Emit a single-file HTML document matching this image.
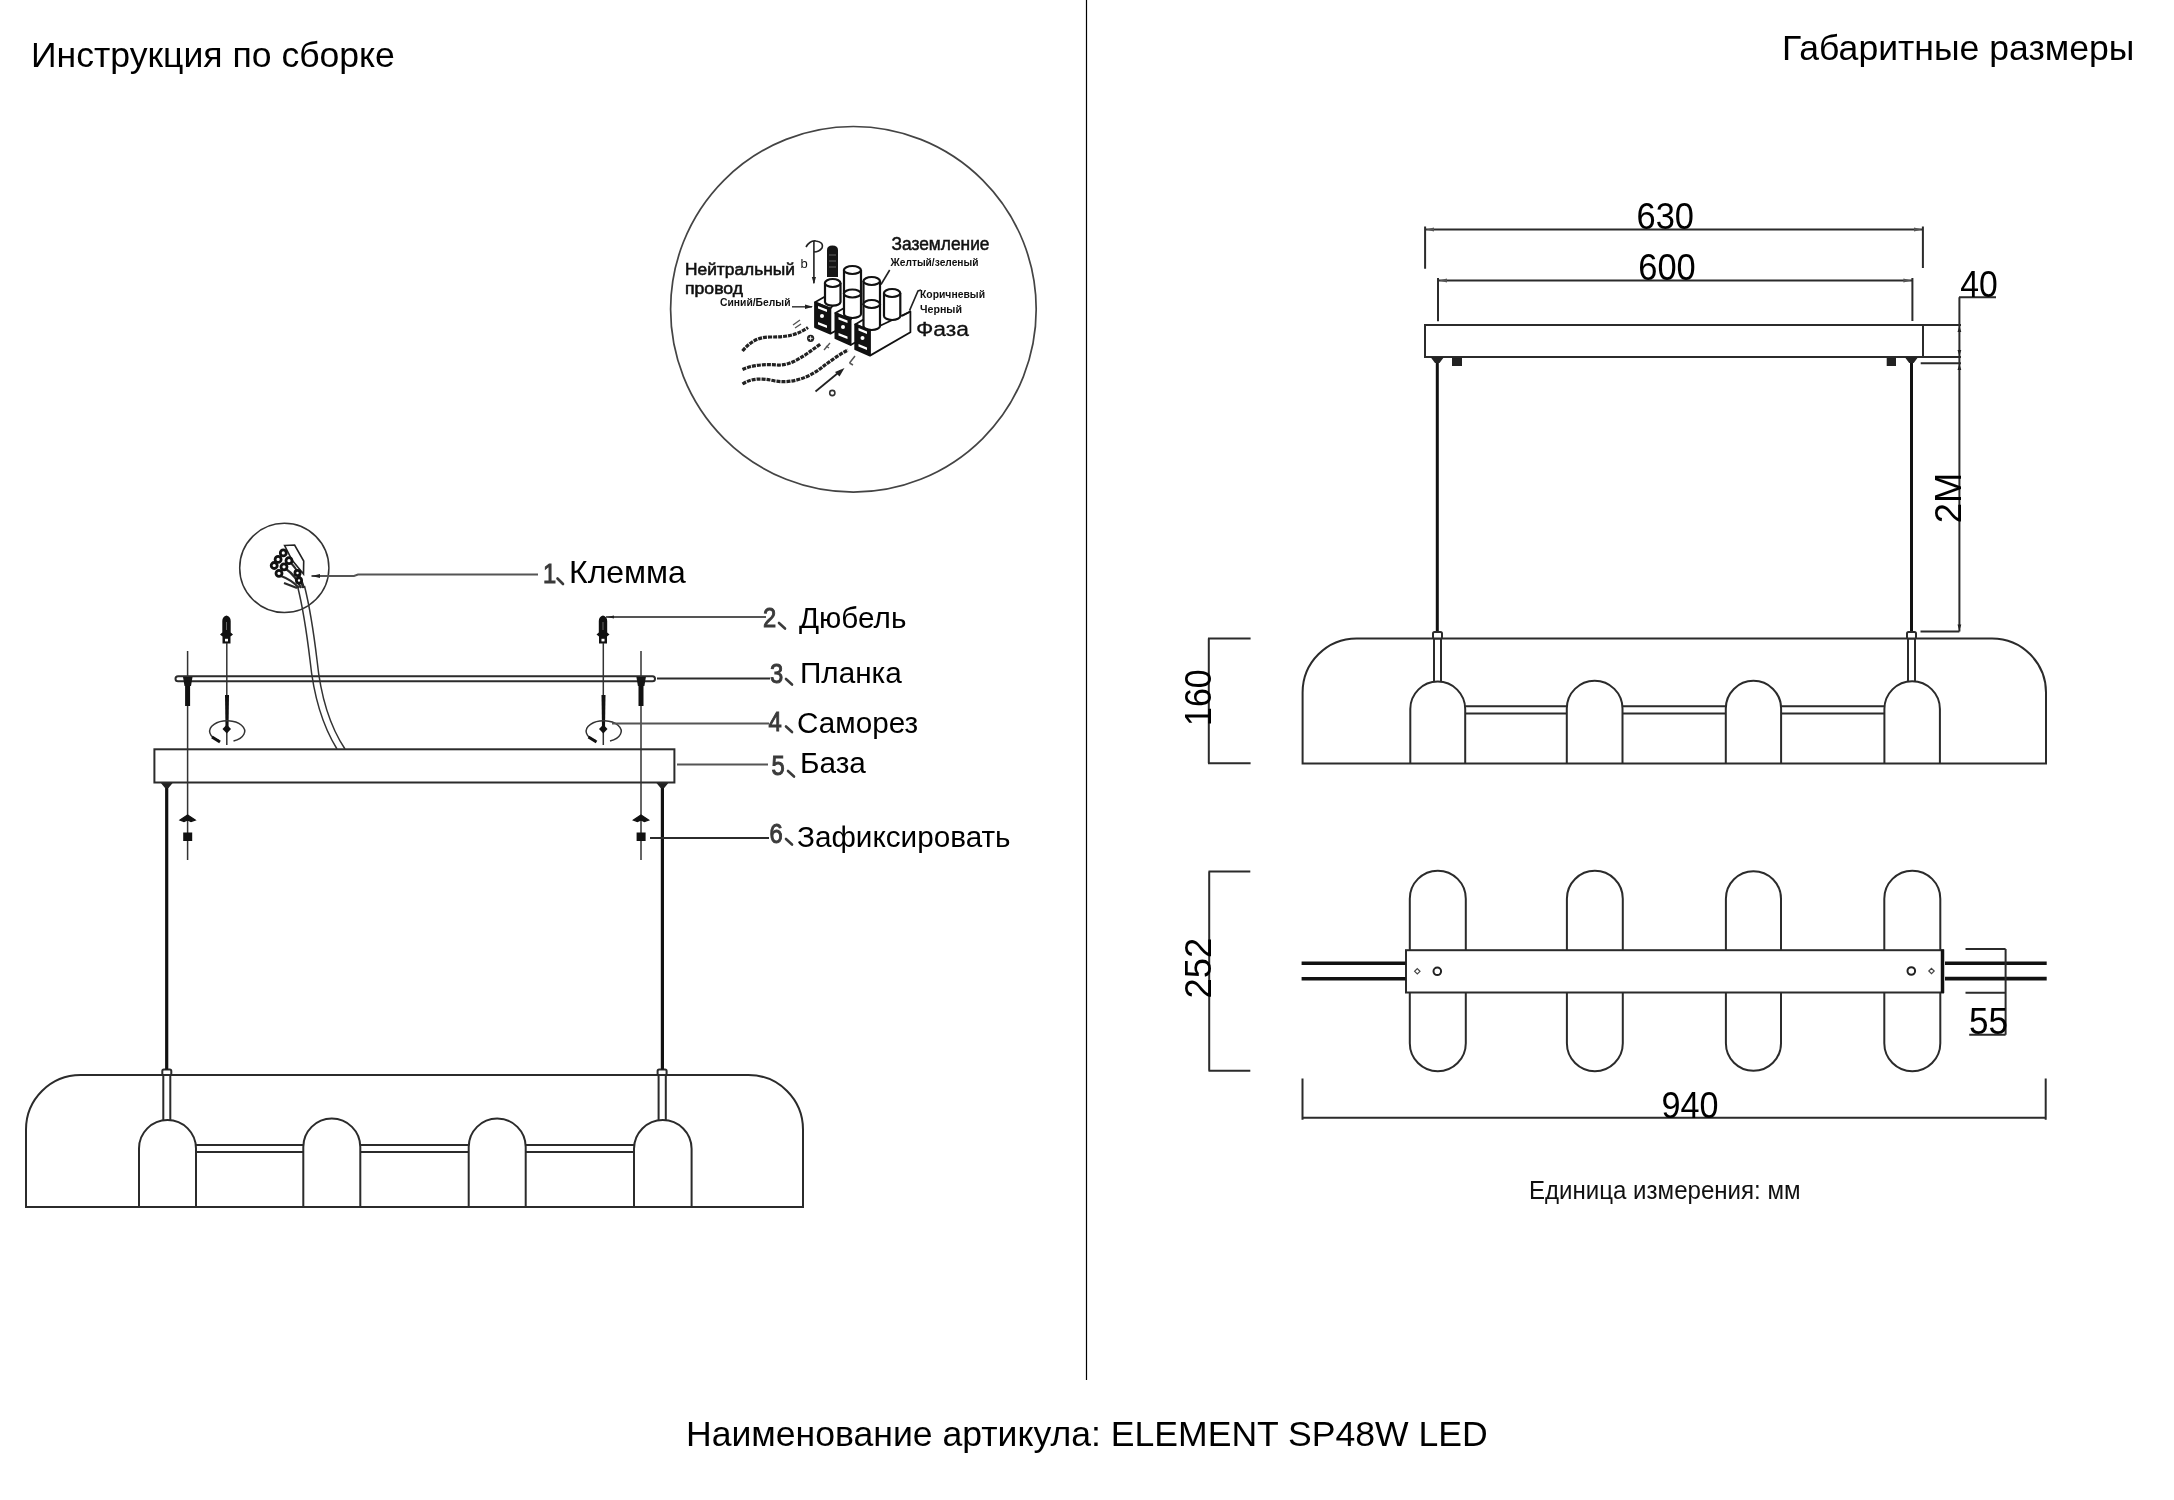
<!DOCTYPE html>
<html><head><meta charset="utf-8">
<style>
html,body{margin:0;padding:0;background:#fff;width:2174px;height:1500px;overflow:hidden}
svg{display:block;position:absolute;left:0;top:0}
text{-webkit-font-smoothing:antialiased}
body{filter:grayscale(1)}
text{font-family:"Liberation Sans",sans-serif}
.l{stroke:#2b2b2b;stroke-width:2;fill:none}
.t{stroke:#333;stroke-width:1.5;fill:none}
.w{stroke:#111;stroke-width:3;fill:none}
.g{stroke:#555;stroke-width:2;fill:none}
.f{fill:#fff}
</style></head><body>
<svg width="2174" height="1500" viewBox="0 0 2174 1500">
<!-- divider -->
<line x1="1086.5" y1="0" x2="1086.5" y2="1380" stroke="#000" stroke-width="1.2"/>
<!-- titles -->
<text x="31" y="67.3" font-size="35.6" fill="#000">Инструкция по сборке</text>
<text x="1782" y="59.8" font-size="35.6" fill="#000">Габаритные размеры</text>
<text x="686" y="1446" font-size="35.6" fill="#000">Наименование артикула: ELEMENT SP48W LED</text>

<!-- ===== LEFT DRAWING ===== -->

<g id="left">
<!-- lamp body -->
<path class="l" d="M26 1207 L26 1129.5 A54.5 54.5 0 0 1 80.5 1075 L748.5 1075 A54.5 54.5 0 0 1 803 1129.5 L803 1207 Z"/>
<!-- bars between pods -->
<path class="l" d="M196 1145 H303 M196 1152 H303 M360.5 1145 H468.5 M360.5 1152 H468.5 M526 1145 H634 M526 1152 H634"/>
<!-- pods -->
<path class="l" d="M139 1207 V1148.5 A28.5 28.5 0 0 1 196 1148.5 V1207"/>
<path class="l" d="M303.3 1207 V1147 A28.5 28.5 0 0 1 360.3 1147 V1207"/>
<path class="l" d="M468.7 1207 V1147 A28.5 28.5 0 0 1 525.7 1147 V1207"/>
<path class="l" d="M634 1207 V1148.8 A28.8 28.8 0 0 1 691.6 1148.8 V1207"/>
<!-- stems -->
<path class="l" d="M163.3 1121 V1074 M170.3 1121 V1074 M658.6 1121 V1074 M665.8 1121 V1074"/>
<rect class="l f" x="162.3" y="1069.5" width="9" height="5.5" rx="1.5"/>
<rect class="l f" x="657.6" y="1069.5" width="9" height="5.5" rx="1.5"/>
<!-- suspension wires -->
<path d="M166.7 786 V1069.5 M662.4 786 V1069.5" stroke="#111" stroke-width="3.2" fill="none"/>
<path d="M160 782 H173.5 L168.5 788 H165 Z M655.6 782 H669.2 L664.2 788 H660.6 Z" fill="#222"/>
<!-- base -->
<rect class="l f" x="154.4" y="749.3" width="520" height="33.2"/>
<!-- planka -->
<path class="l" d="M178 676.3 H652.5 A2.5 2.5 0 0 1 652.5 681.3 H178 A2.5 2.5 0 0 1 178 676.3 Z"/>
<!-- bolt axes -->
<path class="t" d="M187.6 651 V860 M641 651 V860"/>
<path d="M187.6 680 V706 M641 680 V706" stroke="#111" stroke-width="5" fill="none"/>
<path d="M183 677 H192.5 L191 686 H184.5 Z M636.4 677 H645.9 L644.4 686 H637.9 Z" fill="#151515"/>
<!-- washers + nuts -->
<path d="M180 820 L187.6 815 L195.3 820 L191 821.5 L187.6 820 L184 821.5 Z M633.4 820 L641 815 L648.7 820 L644.4 821.5 L641 820 L637.4 821.5 Z" fill="#111" stroke="#111" stroke-width="1.2"/>
<rect x="183.2" y="832.5" width="9" height="8.5" fill="#111"/>
<rect x="636.6" y="832.5" width="9" height="8.5" fill="#111"/>
<!-- dowels -->
<g id="dowel">
<path d="M226.5 615.5 Q222.3 616.5 222.3 621 V632.5 L220 634.5 L222.5 636.5 V643.5 H230.5 V636.5 L233 634.5 L230.7 632.5 V621 Q230.7 616.5 226.5 615.5 Z" fill="#111"/>
<rect x="225" y="638.8" width="3" height="2.6" fill="#fff"/>
<path d="M226.5 622 V630" stroke="#666" stroke-width="1"/>
<path class="t" d="M226.8 643 V745"/>
<path d="M225 695 L229 695 L228.5 729 H225.5 Z" fill="#111"/>
<path d="M226.8 724.5 L222.5 729 L226.8 733.5 L231 729 Z" fill="#111"/>
<path d="M219 740.5 A17.5 10.5 0 1 1 233.5 741" class="t" stroke-width="1.6"/>
<path d="M212 737 L220 742" stroke="#111" stroke-width="3" fill="none"/>
</g>
<use href="#dowel" transform="translate(376.5 0)"/>
<!-- cable -->
<path class="t" d="M297.5 586 C303 608 307 635 310 660 C314 700 324 728 337 749"/>
<path class="t" d="M304.5 586 C310 608 314 635 317 660 C321 700 331 728 345 749"/>
<!-- small circle with terminal -->
<circle cx="284.3" cy="567.9" r="44.6" class="t" stroke-width="1.6"/>
<path d="M284.6 545.5 L294.6 545 L303.7 561 L303.5 574 L292 560 Z" fill="#fff" stroke="#222" stroke-width="1.6"/>
<g stroke="#2a2a2a" stroke-width="2.2" fill="none"><path d="M281 576 Q292 580 299 588"/><path d="M286 569 Q295 575 301 588"/><path d="M291 563 Q300 572 303 588"/><path d="M297 573 Q302 580 304 588"/><path d="M284 583 L297 588"/></g>
<g fill="#fff" stroke="#111" stroke-width="2.8">
<circle cx="283.3" cy="552.9" r="3"/>
<circle cx="278.1" cy="559.4" r="3"/>
<circle cx="274.2" cy="565.5" r="3"/>
<circle cx="279" cy="573.3" r="3"/>
<circle cx="284" cy="566.8" r="3"/>
<circle cx="289" cy="560.7" r="3"/>
<circle cx="297.5" cy="573" r="2.6"/>
<circle cx="299" cy="580.5" r="2.6"/>
</g>
<!-- leaders -->
<path class="g" d="M311.5 576 H354 L358 574.6 H538" stroke="#666"/>
<path d="M311.5 576 L320 574 L320 578 Z" fill="#222"/>
<path class="g" stroke="#888" d="M606 617 H766"/>
<path d="M607 617 L614 615.5 V618.5 Z" fill="#222"/>
<path class="l" d="M657 678.5 H770"/>
<path class="g" d="M612 723.5 H769"/>
<path class="g" d="M677 764.6 H768"/>
<path class="l" d="M650 838 H769"/>

<!-- labels -->
<g fill="#000">
<text x="569" y="582.8" font-size="32">Клемма</text>
<text x="799" y="627.5" font-size="29.7">Дюбель</text>
<text x="800" y="683" font-size="29.7">Планка</text>
<text x="797" y="732.8" font-size="29.7">Саморез</text>
<text x="800" y="772.8" font-size="29.7">База</text>
<text x="797" y="846.6" font-size="29.7">Зафиксировать</text>
</g>
<g fill="#3a3a3a" font-size="28" stroke="#3a3a3a" stroke-width="1">
<text transform="translate(543 582.5) scale(0.85 1)">1</text>
<text transform="translate(763 627) scale(0.85 1)">2</text>
<text transform="translate(770 683) scale(0.85 1)">3</text>
<text transform="translate(768.5 730.7) scale(0.85 1)">4</text>
<text transform="translate(771.5 774.9) scale(0.85 1)">5</text>
<text transform="translate(769.5 843.2) scale(0.85 1)">6</text>
</g>
<g stroke="#3a3a3a" stroke-width="2.6" fill="none" stroke-linecap="round">
<path d="M557.5 578.5 L563 584"/>
<path d="M779 623 L785 628.5"/>
<path d="M786 679 L792 684.5"/>
<path d="M786 726.5 L792 732"/>
<path d="M788 771 L794 776.5"/>
<path d="M786 839 L792 844.5"/>
</g>
</g>



<!-- ===== WIRING CIRCLE ===== -->
<g id="wiring">
<circle cx="853.4" cy="309.3" r="182.8" fill="none" stroke="#444" stroke-width="1.7"/>
<g fill="#111" font-weight="bold">
<text x="891.5" y="250.3" font-size="17.6" font-weight="normal" stroke="#111" stroke-width="0.5" textLength="98" lengthAdjust="spacingAndGlyphs">Заземление</text>
<text x="685" y="274.5" font-size="17.4" textLength="110" font-weight="normal" stroke="#111" stroke-width="0.6" lengthAdjust="spacingAndGlyphs">Нейтральный</text>
<text x="685" y="293.6" font-size="17.4" font-weight="normal" stroke="#111" stroke-width="0.6" textLength="58" lengthAdjust="spacingAndGlyphs">провод</text>
<text x="916" y="336.3" font-size="20" font-weight="normal" stroke="#111" stroke-width="0.3" textLength="53" lengthAdjust="spacingAndGlyphs">Фаза</text>
<text x="890.5" y="266.4" font-size="11" textLength="88" lengthAdjust="spacingAndGlyphs">Желтый/зеленый</text>
<text x="720" y="306.2" font-size="11" textLength="70.5" lengthAdjust="spacingAndGlyphs">Синий/Белый</text>
<text x="920" y="297.8" font-size="11" textLength="65" lengthAdjust="spacingAndGlyphs">Коричневый</text>
<text x="920" y="313.3" font-size="11" textLength="42" lengthAdjust="spacingAndGlyphs">Черный</text>
<text x="800.5" y="267.8" font-size="13" font-weight="normal">b</text>
</g>
<!-- b bracket -->
<path d="M813.9 241 V283.3 M806 247 Q810 240 816 241 Q824 242 822 248 Q819 252 814 252" fill="none" stroke="#222" stroke-width="1.6"/>
<path d="M811.8 277 L813.9 284 L816 277 Z" fill="#222"/>
<!-- leaders -->
<path d="M792 306.8 H812" stroke="#444" stroke-width="1.6"/>
<path d="M813 306.8 L805 304.6 V309 Z" fill="#222"/>
<path d="M889.7 270 L881 284.5" stroke="#222" stroke-width="1.6"/>
<path d="M921 290 L918 291 L909.5 310.6" stroke="#222" stroke-width="1.6" fill="none"/>
<!-- terminal block -->
<g stroke="#111" stroke-width="1.8" stroke-linejoin="round">
<path d="M870 355.6 L910.4 332.2 V311.5 L902 316" fill="#fff"/>
<path d="M815 302.3 L826 296 L836 302 L830.4 308.5 Z" fill="#fff"/>
<path d="M835.4 313 L846 307 L856 313 L850.6 319.5 Z" fill="#fff"/>
<path d="M855.2 324.4 L866 318 L876 324 L870 330.5 Z" fill="#fff"/>
<path d="M815 302.3 L830.4 308.5 V333.6 L815 327.1 Z" fill="#111"/>
<path d="M835.4 313 L850.6 319.5 V345 L835.4 338.3 Z" fill="#111"/>
<path d="M855.2 324.4 L870 330.5 V355.6 L855.2 349.2 Z" fill="#111"/>
<path d="M830.4 333.6 L835.4 331 M850.6 345 L855.2 342.5 M870 330.5 L910.4 311.5" fill="none"/>
</g>
<g fill="#fff" stroke="none">
<path d="M818 306 L827 309.5 V312 L818 308.5 Z M818 322 L827 325.5 V328 L818 324.5 Z"/>
<path d="M838.5 317 L847.5 320.5 V323 L838.5 319.5 Z M838.5 333 L847.5 336.5 V339 L838.5 335.5 Z"/>
<path d="M858.5 328 L867 331.5 V334 L858.5 330.5 Z M858.5 344 L867 347.5 V350 L858.5 346.5 Z"/>
<circle cx="822" cy="316" r="2"/><circle cx="843" cy="327" r="2"/><circle cx="862.5" cy="338" r="2"/>
</g>
<!-- cylinders -->
<g stroke="#111" stroke-width="2.2" fill="#fff">
<path d="M884 293 V316 A8.15 4 0 0 0 900.3 316 V293"/><ellipse cx="892.1" cy="293" rx="8.15" ry="4"/>
<path d="M863.5 281 V304 H880 V281"/><ellipse cx="871.7" cy="281" rx="8.25" ry="4"/>
<path d="M844 270 V293 H861 V270"/><ellipse cx="852.4" cy="270" rx="8.5" ry="4"/>
<path d="M825 283 V302 A7.8 4 0 0 0 840.5 302 V283"/><ellipse cx="832.7" cy="283" rx="7.8" ry="4"/>
<path d="M844 293.5 V314 A8.5 4 0 0 0 861 314 V293.5"/><ellipse cx="852.4" cy="293.5" rx="8.5" ry="4"/>
<path d="M863.5 304 V326 A8.25 4 0 0 0 880 326 V304"/><ellipse cx="871.7" cy="304" rx="8.25" ry="4"/>
</g>
<!-- screw -->
<path d="M827 250 Q827 245.5 832.4 245.5 Q838 245.5 838 250 V277 H827 Z" fill="#151515"/>
<path d="M829 255 H836 M829 261 H836 M829 267 H836" stroke="#777" stroke-width="0.8"/>
<!-- wires -->
<g fill="none" stroke="#222" stroke-width="3.2" stroke-linecap="butt">
<path d="M742.5 351 C750 342 758 337 770 337 C785 337 796 336 808 327.5" stroke-dasharray="4 1"/>
<path d="M742.5 369.5 C752 365 765 364 777 365 C792 366 805 355 820.5 344" stroke-dasharray="4 1"/>
<path d="M742.5 384 C752 378 762 378 775 381 C795 384 812 376 825 365 C832 360 840 354 848 350" stroke-dasharray="4 1"/>
</g>
<path d="M815.5 391.5 L841 370.5" stroke="#222" stroke-width="1.8"/>
<path d="M844.5 368 L835 372 L839.5 376.5 Z" fill="#222"/>
<circle cx="810.6" cy="338.3" r="3.6" fill="#222"/><path d="M808.5 338.3 H812.7 M810.6 336.2 V340.4" stroke="#fff" stroke-width="0.9"/>
<circle cx="832.3" cy="393" r="2.6" fill="none" stroke="#333" stroke-width="1.6"/>
<path d="M793 325 L800 320 M795 328 L801 324" stroke="#555" stroke-width="1.4"/>
<path d="M824 350 L830 343 M826 346 L829 348" stroke="#555" stroke-width="1.4"/>
<path d="M849.5 363 L855 356 M849.5 363 L853 365" stroke="#555" stroke-width="1.5"/>
</g>

<!-- ===== RIGHT DRAWING ===== -->

<g id="right">
<!-- 630 dim -->
<path class="l" d="M1425 229.5 H1923 M1425.1 226.5 V268.7 M1922.9 226.5 V268"/>
<path d="M1426 229.5 L1434 227.5 V231.5 Z M1922 229.5 L1914 227.5 V231.5 Z" fill="#555"/>
<!-- 600 dim -->
<path class="l" d="M1438 280.5 H1912.4 M1438 278 V321.3 M1912.4 278 V321"/>
<path d="M1439 280.5 L1447 278.5 V282.5 Z M1911.4 280.5 L1903.4 278.5 V282.5 Z" fill="#555"/>
<!-- canopy -->
<rect class="l f" x="1425" y="325" width="498" height="32"/>
<path class="l" d="M1923 325 H1961 M1923 357 H1961 M1920.7 363.3 H1961 M1959.4 297.3 V631.4 M1959 297.3 H1996 M1920.5 631.4 H1959.4"/>
<path d="M1959.4 326 L1957.5 332 H1961.3 Z M1959.4 356 L1957.5 350 H1961.3 Z M1959.4 364 L1957.5 370 H1961.3 Z M1959.4 630.5 L1957.5 624.5 H1961.3 Z" fill="#222"/>
<!-- wires -->
<path d="M1437.3 361 V632 M1911.5 361 V632" stroke="#111" stroke-width="3" fill="none"/>
<path d="M1430.5 357 H1444 L1439.5 363 H1435 Z M1904.7 357 H1918.2 L1913.7 363 H1909.2 Z" fill="#222"/>
<rect x="1452" y="357.7" width="10" height="8.3" fill="#222"/>
<rect x="1886.7" y="357.7" width="9.3" height="8.3" fill="#222"/>
<!-- front lamp -->
<path class="l" d="M1302.6 763.4 V692.5 A54 54 0 0 1 1356.6 638.5 H1992 A54 54 0 0 1 2046 692.5 V763.4 Z"/>
<path class="l" d="M1465.2 706.3 H1566.8 M1465.2 713.4 H1566.8 M1622.5 706.3 H1725.8 M1622.5 713.4 H1725.8 M1781.1 706.3 H1884.4 M1781.1 713.4 H1884.4"/>
<path class="l" d="M1410.3 763.4 V709 A27.45 27.45 0 0 1 1465.2 709 V763.4"/>
<path class="l" d="M1566.8 763.4 V708.5 A27.85 27.85 0 0 1 1622.5 708.5 V763.4"/>
<path class="l" d="M1725.8 763.4 V708.5 A27.65 27.65 0 0 1 1781.1 708.5 V763.4"/>
<path class="l" d="M1884.4 763.4 V709 A27.75 27.75 0 0 1 1939.9 709 V763.4"/>
<path class="l" d="M1434 681.5 V638.5 M1441 681.5 V638.5 M1908 681.5 V638.5 M1915 681.5 V638.5"/>
<rect class="l f" x="1433" y="632" width="9" height="6.5" rx="1.5"/>
<rect class="l f" x="1907" y="632" width="9" height="6.5" rx="1.5"/>
<!-- 160 dim -->
<path class="l" d="M1208.8 638.5 V763.3 M1208 638.5 H1250.6 M1208 763.3 H1250.6"/>
<!-- top view pods -->
<path class="l" d="M1409.8 898.7 A28 28 0 0 1 1465.8 898.7 V1043.2 A28 28 0 0 1 1409.8 1043.2 Z"/>
<path class="l" d="M1566.9 898.7 A27.95 27.95 0 0 1 1622.8 898.7 V1043.2 A27.95 27.95 0 0 1 1566.9 1043.2 Z"/>
<path class="l" d="M1725.9 898.7 A27.55 27.55 0 0 1 1781 898.7 V1043.2 A27.55 27.55 0 0 1 1725.9 1043.2 Z"/>
<path class="l" d="M1884.3 898.7 A28 28 0 0 1 1940.3 898.7 V1043.2 A28 28 0 0 1 1884.3 1043.2 Z"/>
<rect class="l f" x="1406" y="950.2" width="537" height="42.3"/>
<path d="M1942.5 949.5 V993" stroke="#111" stroke-width="3.5"/>
<path d="M1301.6 963.3 H1405.5 M1301.6 978.8 H1405.5 M1945 963.3 H2046.7 M1945 978.6 H2046.7" stroke="#111" stroke-width="3.6" fill="none"/>
<circle cx="1437.3" cy="971.3" r="3.8" fill="none" stroke="#222" stroke-width="2"/>
<circle cx="1911.3" cy="971" r="3.8" fill="none" stroke="#222" stroke-width="2"/>
<path d="M1417.3 968.6 L1420 971.3 L1417.3 974 L1414.6 971.3 Z M1931.5 968.3 L1934.2 971 L1931.5 973.7 L1928.8 971 Z" fill="none" stroke="#444" stroke-width="1.2"/>
<!-- 252 dim -->
<path class="l" d="M1209.2 871.5 V1070.8 M1208.5 871.5 H1250.3 M1208.5 1070.8 H1250.3"/>
<!-- 940 dim -->
<path class="l" d="M1302.5 1117.8 H2045.7 M1302.5 1078.6 V1119.7 M2045.7 1078.6 V1119.7"/>
<!-- 55 dim -->
<path class="l" d="M2005.6 949 V1034.8 M1965.5 949 H2005.6 M1965.5 992.8 H2005.6 M1969.2 1034.8 H2005.6"/>
<!-- dimension numbers -->
<g fill="#000" font-size="36">
<text x="1636.5" y="229.3" textLength="57.5" lengthAdjust="spacingAndGlyphs">630</text>
<text x="1638.3" y="279.7" textLength="57.5" lengthAdjust="spacingAndGlyphs">600</text>
<text x="1960.2" y="297" textLength="37.5" lengthAdjust="spacingAndGlyphs">40</text>
<text x="1969" y="1034.2" textLength="39" lengthAdjust="spacingAndGlyphs">55</text>
<text x="1661.5" y="1117.5" textLength="57" lengthAdjust="spacingAndGlyphs">940</text>
<text transform="translate(1210.5 726) rotate(-90)" textLength="56.7" lengthAdjust="spacingAndGlyphs">160</text>
<text transform="translate(1210.6 998.5) rotate(-90)" textLength="60.6" lengthAdjust="spacingAndGlyphs">252</text>
<text transform="translate(1961.4 523.3) rotate(-90)" textLength="50.6" lengthAdjust="spacingAndGlyphs">2M</text>
</g>
<text x="1529" y="1199" font-size="26" fill="#111" textLength="271.5" lengthAdjust="spacingAndGlyphs">Единица измерения: мм</text>
</g>

</svg>
</body></html>
